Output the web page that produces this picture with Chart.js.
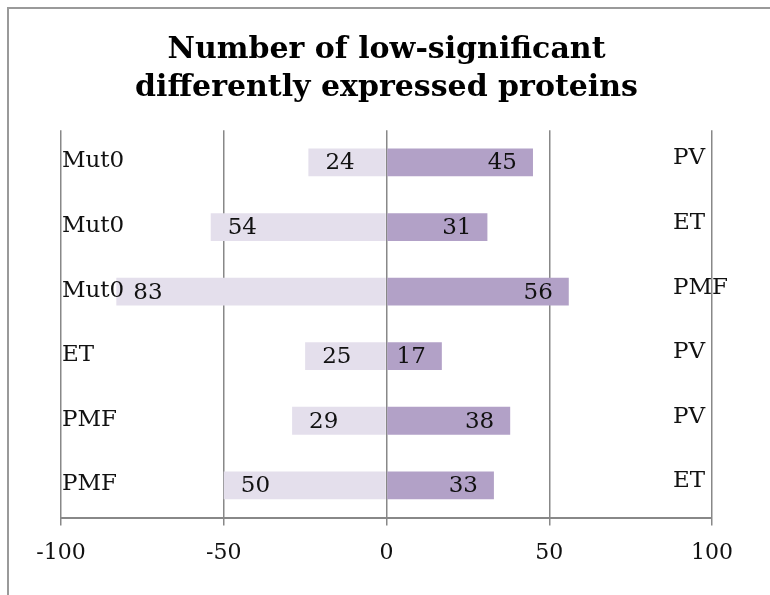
<!DOCTYPE html>
<html>
<head>
<meta charset="utf-8">
<script src="https://cdn.jsdelivr.net/npm/chart.js@4.4.0/dist/chart.umd.min.js"></script>
<style>
  body { margin: 0; background: #fff; }
  #wrap { width: 770px; height: 595px; position: relative; }
</style>
</head>
<body>
<div id="wrap"><canvas id="myChart"></canvas></div>
<script>
const filas = ["1", "2", "3", "4", "5", "6"];
const nombresIzq = ["Mut0", "Mut0", "Mut0", "ET", "PMF", "PMF"];
const nombresDer = ["PV", "ET", "PMF", "PV", "PV", "ET"];
const valoresIzq = [24, 54, 83, 25, 29, 50];
const valoresDer = [45, 31, 56, 17, 38, 33];
const ticksX = [-100, -50, 0, 50, 100];

const fuente = "'DejaVu Serif', serif";

// marco gris arriba e izquierda
const marco = {
  id: "marco",
  beforeDraw: (chart) => {
    const ctx = chart.ctx;
    ctx.save();
    ctx.fillStyle = "#fff";
    ctx.fillRect(0, 0, chart.width, chart.height);
    ctx.strokeStyle = "#9a9a9a";
    ctx.lineWidth = 2;
    ctx.beginPath();
    ctx.moveTo(8, chart.height);
    ctx.lineTo(8, 8);
    ctx.lineTo(chart.width, 8);
    ctx.stroke();
    ctx.restore();
  }
};

// etiquetas de valores y nombres de cada fila
const etiquetas = {
  id: "etiquetas",
  afterDatasetsDraw: (chart) => {
    const ctx = chart.ctx;
    const area = chart.chartArea;
    const izq = chart.getDatasetMeta(0).data;
    const der = chart.getDatasetMeta(1).data;
    ctx.save();
    ctx.font = "23px " + fuente;
    ctx.fillStyle = "#111";
    ctx.textBaseline = "middle";

    izq.forEach((bar, i) => {
      ctx.textAlign = "left";
      ctx.fillText(valoresIzq[i], bar.x + 17, bar.y + 1);
      ctx.fillText(nombresIzq[i], area.left + 1, bar.y - 1);
    });

    der.forEach((bar, i) => {
      ctx.textAlign = "right";
      ctx.fillText(valoresDer[i], bar.x - 16, bar.y + 1);
      ctx.textAlign = "left";
      ctx.fillText(nombresDer[i], area.right - 39, bar.y - 4);
    });
    ctx.restore();
  }
};

const data = {
  labels: filas,
  datasets: [
    {
      data: valoresIzq.map((v) => -v),
      backgroundColor: "#e4dfec",
      categoryPercentage: 0.86,
      barPercentage: 0.5
    },
    {
      data: valoresDer,
      backgroundColor: "#b2a1c7",
      categoryPercentage: 0.86,
      barPercentage: 0.5
    }
  ]
};

const config = {
  type: "bar",
  data,
  plugins: [marco, etiquetas],
  options: {
    indexAxis: "y",
    responsive: true,
    maintainAspectRatio: false,
    animation: false,
    layout: { padding: { left: 61, right: 58, top: 0, bottom: 15 } },
    plugins: {
      legend: { display: false },
      tooltip: { enabled: false },
      title: {
        display: true,
        text: ["Number of low-significant", "differently expressed proteins"],
        color: "#000",
        font: { family: fuente, size: 30, weight: "bold", lineHeight: 1.27 },
        padding: { top: 31, bottom: 23 }
      }
    },
    scales: {
      x: {
        min: -100,
        max: 100,
        afterBuildTicks: (axis) => {
          axis.ticks = ticksX.map((v) => ({ value: v }));
        },
        grid: { color: "#888", lineWidth: 1.5, tickLength: 8 },
        border: { color: "#888", width: 2 },
        ticks: {
          color: "#111",
          padding: 14,
          maxRotation: 0,
          font: { family: fuente, size: 22 }
        }
      },
      y: {
        stacked: true,
        display: false
      }
    }
  }
};

const myChart = document.getElementById("myChart");
window.grafica = new Chart(myChart, config);
</script>
</body>
</html>
